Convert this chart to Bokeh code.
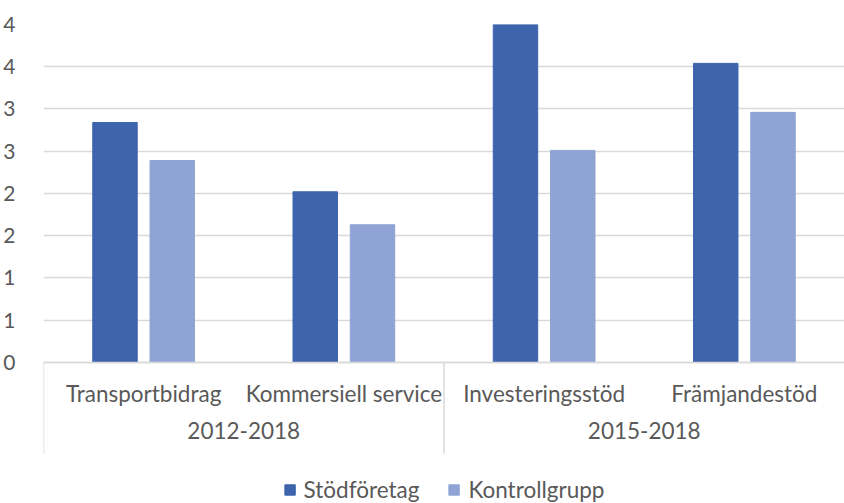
from bokeh.plotting import figure
from bokeh.models import FactorRange, ColumnDataSource, Legend, LegendItem, FixedTicker, Range1d
from bokeh.transform import dodge
from bokeh.embed import file_html
from bokeh.resources import INLINE

periods = ["2012-2018", "2012-2018", "2015-2018", "2015-2018"]
programs = ["Transportbidrag", "Kommersiell service", "Investeringsstöd", "Främjandestöd"]
stodforetag = [2.84, 2.02, 4.01, 3.54]
kontrollgrupp = [2.39, 1.63, 2.51, 2.96]
y_ticks = [0, 0.5, 1, 1.5, 2, 2.5, 3, 3.5, 4]
y_tick_labels = ["0", "1", "1", "2", "2", "3", "3", "4", "4"]
series_names = ["Stödföretag", "Kontrollgrupp"]

FONT = "Lato"
TXT = "#595959"
FS = "22.5px"
GRID = "#D9D9D9"

factors = list(zip(periods, programs))
src = ColumnDataSource(dict(x=factors, s=stodforetag, k=kontrollgrupp))

p = figure(frame_width=801, frame_height=479,
           x_range=FactorRange(*factors, group_padding=0, factor_padding=0, range_padding=0),
           y_range=Range1d(-1.669, 4.0),
           output_backend="svg", toolbar_location=None,
           min_border_left=35, min_border_top=24, min_border_right=0, min_border_bottom=0)
p.outline_line_color = None
p.background_fill_color = "white"

r1 = p.vbar(x=dodge("x", -0.143, range=p.x_range), top="s", width=0.222, source=src,
            fill_color="#3D64AD", line_color="#3D64AD")
r2 = p.vbar(x=dodge("x", 0.143, range=p.x_range), top="k", width=0.222, source=src,
            fill_color="#8FA4D4", line_color="#8FA4D4")

# group separators (left edge of each period group)
sep_src = ColumnDataSource(dict(x=[factors[0], factors[2]], y0=[0, 0], y1=[-1.08, -1.08]))
p.segment(x0=dodge("x", -0.5, range=p.x_range), x1=dodge("x", -0.5, range=p.x_range),
          y0="y0", y1="y1", source=sep_src, line_color=GRID, line_width=1.5)

p.xgrid.grid_line_color = None
p.ygrid.grid_line_color = GRID
p.ygrid.grid_line_width = 1.5
p.ygrid.ticker = FixedTicker(ticks=y_ticks)

ya = p.yaxis[0]
ya.ticker = FixedTicker(ticks=y_ticks)
ya.major_label_overrides = {t: l for t, l in zip(y_ticks, y_tick_labels)}
ya.axis_line_color = None
ya.major_tick_line_color = None
ya.minor_tick_line_color = None
ya.major_label_text_font = FONT
ya.major_label_text_font_size = "21px"
ya.major_label_text_color = TXT
ya.major_label_standoff = 22

xa = p.xaxis[0]
xa.fixed_location = 0
xa.axis_line_color = GRID
xa.axis_line_width = 1.5
xa.major_tick_line_color = None
xa.minor_tick_line_color = None
xa.major_label_text_font = FONT
xa.major_label_text_font_size = FS
xa.major_label_text_color = TXT
xa.major_label_standoff = 12
xa.group_text_font = FONT
xa.group_text_font_size = FS
xa.group_text_color = TXT
xa.group_text_font_style = "normal"
xa.separator_line_color = None

legend = Legend(items=[LegendItem(label=series_names[0], renderers=[r1]),
                       LegendItem(label=series_names[1], renderers=[r2])],
                orientation="horizontal", location="bottom_center",
                label_text_font=FONT, label_text_font_size=FS, label_text_color=TXT,
                glyph_width=13, glyph_height=13, border_line_color=None,
                background_fill_alpha=0,
                spacing=28, padding=0, margin=0, label_standoff=8)
p.add_layout(legend, "center")

open("out.html", "w").write(file_html(p, INLINE))
